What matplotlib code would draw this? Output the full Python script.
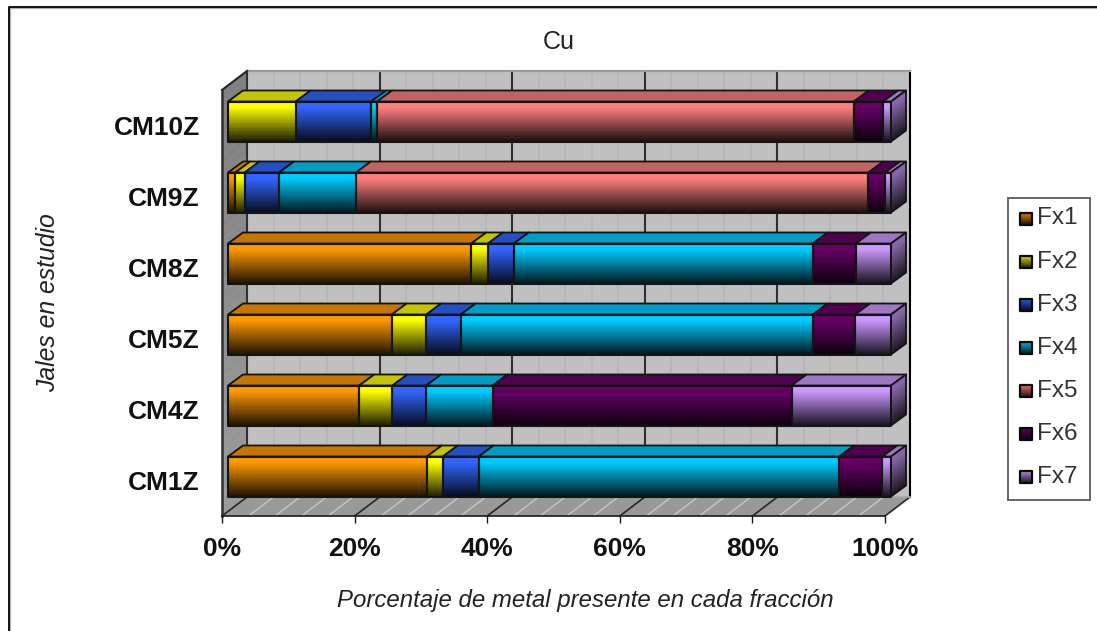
import matplotlib
matplotlib.use("Agg")
import matplotlib.pyplot as plt
import numpy as np
from matplotlib.collections import PolyCollection
from matplotlib.colors import to_rgb

plt.rcParams["font.family"] = ["Liberation Sans", "DejaVu Sans"]

samples = ["CM1Z", "CM4Z", "CM5Z", "CM8Z", "CM9Z", "CM10Z"]
fractions = ["Fx1", "Fx2", "Fx3", "Fx4", "Fx5", "Fx6", "Fx7"]
fx1 = [30.0, 19.8, 24.7, 36.7, 1.1, 0.0]
fx2 = [2.4, 5.0, 5.2, 2.5, 1.4, 10.2]
fx3 = [5.4, 5.1, 5.2, 3.9, 5.2, 11.4]
fx4 = [54.4, 10.0, 53.1, 45.1, 11.6, 0.9]
fx5 = [0.0, 0.0, 0.0, 0.0, 77.3, 71.9]
fx6 = [6.5, 45.1, 6.4, 6.5, 2.5, 4.4]
fx7 = [1.3, 15.0, 5.4, 5.3, 0.9, 1.2]
series = [fx1, fx2, fx3, fx4, fx5, fx6, fx7]
colors = ["#FF9900", "#FFFF00", "#3366FF", "#00CCFF", "#FF8080", "#660066", "#CC99FF"]
percent_ticks = [0, 20, 40, 60, 80, 100]

W, H = 1097, 631
AX_L, AX_R, AX_T, AX_B = 222, 885, 90, 516
EDGE = "#141414"

fig = plt.figure(figsize=(W / 100, H / 100), dpi=100, facecolor="white")
ax = fig.add_axes([AX_L / W, 1 - AX_B / H, (AX_R - AX_L) / W, (AX_B - AX_T) / H])
ax.set_xlim(0, 100)
ax.set_ylim(-0.5, 5.5)
ax.patch.set_visible(False)

px_x = 100 / (AX_R - AX_L)
px_y = 6 / (AX_B - AX_T)


def skew(x, y, dx, dy):
    # oblique projection: shift a data point by an offset in pixels
    return (x + dx * px_x, y + dy * px_y)


def shaded(ax, top_l, top_r, bot_r, bot_l, top_col, bot_col, hold=0.12, z=3):
    # vertical gradient across a quad, drawn as thin strips
    n = 40
    top_l, top_r, bot_r, bot_l = map(np.array, (top_l, top_r, bot_r, bot_l))
    top_col, bot_col = np.array(top_col), np.array(bot_col)
    polys, cols = [], []
    for i in range(n):
        a, b = i / n, (i + 1) / n
        polys.append([top_l + (bot_l - top_l) * a, top_r + (bot_r - top_r) * a,
                      top_r + (bot_r - top_r) * b, top_l + (bot_l - top_l) * b])
        t = max(0, (a - hold) / (1 - hold))
        cols.append(top_col + (bot_col - top_col) * t)
    pc = PolyCollection(polys, facecolors=cols, edgecolors=cols, linewidths=0.3, zorder=z, clip_on=False)
    ax.add_collection(pc)


def flat(ax, pts, fc, ec="none", lw=0, z=1):
    ax.fill(*zip(*pts), facecolor=fc, edgecolor=ec, linewidth=lw, zorder=z, clip_on=False, joinstyle="round")


# walls and floor
WALL_DX, WALL_DY = 25, 19
lo, hi = -0.5, 5.5
back = lambda x, y: skew(x, y, WALL_DX, WALL_DY)
flat(ax, [back(0, lo), back(100, lo), back(100, hi), back(0, hi)], "#C0C0C0", z=0)
shaded(ax, (0, hi), back(0, hi), back(0, lo), (0, lo), to_rgb("#808080"), to_rgb("#9C9C9C"), hold=0, z=0.5)
flat(ax, [(0, lo), (100, lo), back(100, lo), back(0, lo)], "#999999", z=0.5)

for g in range(0, 101, 4):
    if g % 20:
        ax.plot(*zip(back(g, lo), back(g, hi)), color="#B6B6B6", lw=1.2, zorder=0.7, clip_on=False)
        ax.plot(*zip((g, lo), back(g, lo)), color="#C6C6C6", lw=1.0, zorder=0.7, clip_on=False)
for g in percent_ticks:
    ax.plot(*zip(back(g, lo), back(g, hi)), color="#303030" if g < 100 else "#000000", lw=1.5, zorder=0.8, clip_on=False)
    ax.plot(*zip((g, lo), back(g, lo)), color="#262626", lw=1.2, zorder=0.8, clip_on=False)
ax.plot(*zip(back(0, hi), back(100, hi)), color="#9A9A9A", lw=1.6, zorder=0.8, clip_on=False)
ax.plot(*zip(back(0, lo), back(100, lo)), color="#A8A8A8", lw=1.2, zorder=0.8, clip_on=False)
ax.plot(*zip((0, hi), back(0, hi)), color="#262626", lw=1.5, zorder=0.9, clip_on=False)

# stacked 3d bars
bar_h = 40 * px_y
F_DX, F_DY, B_DX, B_DY = 6, 4, 21, 15
for row in range(len(samples)):
    y0, y1 = row - bar_h / 2, row + bar_h / 2
    left = 0.0
    for vals, col in zip(series, colors):
        v = vals[row]
        if v <= 0:
            continue
        right = left + v
        rgb = np.array(to_rgb(col))
        fl = skew(left, y1, F_DX, F_DY)
        fr = skew(right, y1, F_DX, F_DY)
        bl = skew(left, y0, F_DX, F_DY)
        br = skew(right, y0, F_DX, F_DY)
        tl = skew(left, y1, B_DX, B_DY)
        tr = skew(right, y1, B_DX, B_DY)
        # top face
        flat(ax, [fl, fr, tr, tl], rgb * 0.77, ec=EDGE, lw=1.3, z=3)
        shaded(ax, fl, fr, br, bl, rgb, rgb * 0.1, z=3.2)
        flat(ax, [fl, fr, br, bl], "none", ec=EDGE, lw=1.5, z=3.4)
        if abs(right - 100) < 0.15:
            rb = skew(right, y0, B_DX, B_DY)
            shaded(ax, fr, tr, rb, br, rgb * 0.65, rgb * 0.1, z=3.2)
            flat(ax, [fr, tr, rb, br], "none", ec=EDGE, lw=1.3, z=3.4)
        left = right

# axes furniture
for s in ("top", "right"):
    ax.spines[s].set_visible(False)
ax.spines["left"].set_color("#303030")
ax.spines["left"].set_linewidth(1.8)
ax.spines["bottom"].set_color("#1A1A1A")
ax.spines["bottom"].set_linewidth(1.2)
ax.spines["left"].set_zorder(5)
ax.spines["bottom"].set_zorder(5)
ax.set_xticks(percent_ticks)
ax.set_xticklabels([f"{p}%" for p in percent_ticks], fontsize=19, fontweight="bold", color="#111111")
ax.set_yticks(range(len(samples)))
ax.set_yticklabels(samples, fontsize=19, fontweight="bold", color="#111111")
ax.tick_params(axis="x", length=5, width=1, color="#1A1A1A", pad=10)
ax.tick_params(axis="y", length=0, pad=16)

fig.text(559 / W, 1 - 42 / H, "Cu", fontsize=18, color="#222222", ha="center", va="center")
fig.text(585 / W, 1 - 600 / H, "Porcentaje de metal presente en cada fracción", fontsize=17.3,
         style="italic", color="#222222", ha="center", va="center")
fig.text(48 / W, 1 - 303 / H, "Jales en estudio", fontsize=17.8, style="italic", color="#222222",
         rotation=90, ha="center", va="center")

# legend box
lx0, lx1, ly0, ly1 = 1008, 1090, 198, 500
leg = fig.add_axes([lx0 / W, 1 - ly1 / H, (lx1 - lx0) / W, (ly1 - ly0) / H])
leg.set_xlim(lx0, lx1)
leg.set_ylim(ly1, ly0)
leg.set_xticks([])
leg.set_yticks([])
for s in leg.spines.values():
    s.set_color("#666666")
    s.set_linewidth(1.4)
for i, (name, col) in enumerate(zip(fractions, colors)):
    yc = 218.5 + i * 43.1
    rgb = np.array(to_rgb(col))
    shaded(leg, (1020, yc - 6), (1032, yc - 6), (1032, yc + 6), (1020, yc + 6), rgb * 0.9, rgb * 0.15, hold=0, z=2)
    flat(leg, [(1020, yc - 6), (1032, yc - 6), (1032, yc + 6), (1020, yc + 6)], "none", ec="#0A0A0A", lw=1.6, z=3)
    leg.text(1037, yc, name, fontsize=17.5, color="#333333", ha="left", va="center")

# outer chart frame, running off the top and right of the image
fig.add_artist(plt.Line2D([9.8 / W, 9.8 / W, 1], [0, 1 - 7.8 / H, 1 - 7.8 / H], color="#B0B0B0", lw=0.9))
fig.add_artist(plt.Line2D([8.5 / W, 8.5 / W, 1], [0, 1 - 6.5 / H, 1 - 6.5 / H], color="#111111", lw=1.4))
fig.savefig("out.png", dpi=100, facecolor="white")
